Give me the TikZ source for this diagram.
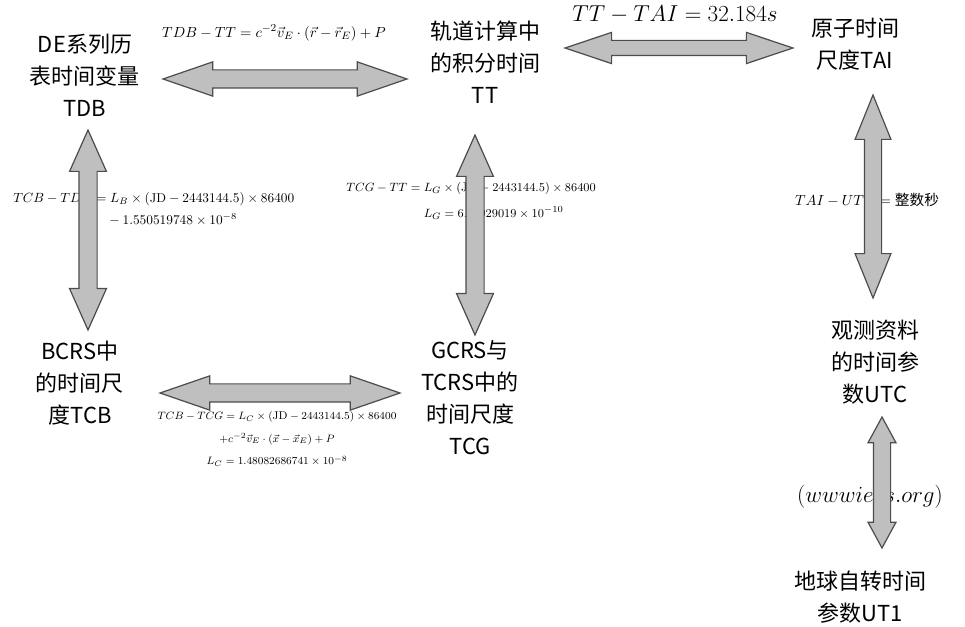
\documentclass[tikz,border=0pt]{standalone}
\usepackage{amssymb,amsmath}
\usepackage{xcolor}
\usepackage{fontspec}
\newfontfamily\cjk{Noto Sans CJK SC}
\usetikzlibrary{calc,shapes.arrows}

\tikzset{
  box/.style={align=center, inner sep=0.75pt, font=\cjk\fontsize{16.5}{24}\selectfont},
  eqn/.style={align=center, inner sep=0.75pt, font=\fontsize{11}{17}\selectfont},
  dblarrow/.style={double arrow, draw=black!70, fill=black!25, line width=0.9pt,
    inner xsep=0pt, inner ysep=6.375pt, minimum width=0pt, double arrow head extend=6pt,
    double arrow tip angle=38, double arrow head indent=0pt},
}
% block arrow between two named coordinates
\newcommand\linkarrow[3][]{%
  \path let \p1=($(#3)-(#2)$), \n1={veclen(\x1,\y1)}, \n2={atan2(\y1,\x1)} in
    node[dblarrow, minimum height=\n1, rotate=\n2, #1] at ($(#2)!0.5!(#3)$) {};}

\begin{document}
\begin{tikzpicture}[x=0.75pt,y=0.75pt,yscale=-1,xscale=1]
    \useasboundingbox (0,0) rectangle (965,627);
    % Text Nodes
    \node[box] (tdb) at (85,75) {DE系列历\\表时间变量\\TDB};
    \node[box] (tt) at (485,62) {轨道计算中\\的积分时间\\TT};
    \node[box] (tai) at (855,44) {原子时间\\尺度TAI};
    \node[box] (tcb) at (80,383) {BCRS中\\的时间尺\\度TCB};
    \node[box] (tcg) at (470,398) {GCRS与\\TCRS中的\\时间尺度\\TCG};
    \node[box] (utc) at (875,362) {观测资料\\的时间参\\数UTC};
    \node[box] (ut1) at (860,597) {地球自转时间\\参数UT1};
    % Equations
    \node[eqn] (eqtdb) at (274,33) {$TDB-TT=c^{-2}\vec{v}_E\cdot(\vec{r}-\vec{r}_E)+P$};
    \node[eqn, font=\fontsize{19}{21}\selectfont] (eqtai) at (675,15) {$TT-TAI=32.184s$};
    \node[eqn, anchor=west, align=left, font=\fontsize{9.6}{17}\selectfont] (eqtcb) at (12,209)
      {$TCB-TDB=L_B\times(\mathrm{JD}-2443144.5)\times86400$\\$\phantom{TCB-TDB=}-1.550519748\times10^{-8}$};
    \node[eqn, anchor=west, align=left, font=\fontsize{9.5}{20}\selectfont] (eqtcg) at (345,201)
      {$TCG-TT=L_G\times(\mathrm{JD}-2443144.5)\times86400$\\$\phantom{TCG-TT={}}L_G=6.96929019\times10^{-10}$};
    \node[eqn] (equtc) at (867,200) {$TAI-UTC=\text{\cjk 整数秒}$};
    \node[eqn, font=\fontsize{8.5}{17}\selectfont] (eqtcbg) at (277,439)
      {$TCB-TCG=L_C\times(\mathrm{JD}-2443144.5)\times86400$\\$+c^{-2}\vec{v}_E\cdot(\vec{x}-\vec{x}_E)+P$\\$L_C=1.48082686741\times10^{-8}$};
    \node[eqn, font=\fontsize{16}{18}\selectfont] (eqiers) at (870,497) {$(wwwiers.org)$};
    % Arrow ends
    \coordinate (tdb-e) at (163,79);  \coordinate (tt-w) at (407,79);
    \coordinate (tt-e) at (565,48);   \coordinate (tai-w) at (793,48);
    \coordinate (tdb-s) at (88,130);  \coordinate (tcb-n) at (88,330);
    \coordinate (tt-s) at (475,135);  \coordinate (tcg-n) at (475,335);
    \coordinate (tai-s) at (873,95);  \coordinate (utc-n) at (873,298);
    \coordinate (tcb-e) at (160,393); \coordinate (tcg-w) at (400,393);
    \coordinate (utc-s) at (882,417); \coordinate (ut1-n) at (882,548);
    % Block arrows
    \linkarrow{tdb-e}{tt-w}
    \linkarrow[inner ysep=5.25pt, double arrow tip angle=37]{tt-e}{tai-w}
    \linkarrow[double arrow head extend=7pt, double arrow tip angle=48]{tdb-s}{tcb-n}
    \linkarrow[double arrow head extend=7pt, double arrow tip angle=48]{tt-s}{tcg-n}
    \linkarrow[inner ysep=6pt, double arrow head extend=7pt, double arrow tip angle=44]{tai-s}{utc-n}
    \linkarrow{tcb-e}{tcg-w}
    \linkarrow[inner ysep=6pt, double arrow head extend=4pt, double arrow tip angle=57]{utc-s}{ut1-n}
\end{tikzpicture}
\end{document}
